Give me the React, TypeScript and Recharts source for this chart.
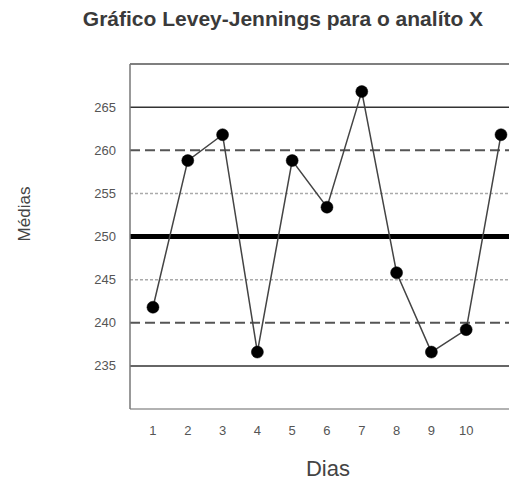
import {
  Line,
  LineChart,
  ReferenceLine,
  XAxis,
  YAxis,
} from "recharts";

const days = [1, 2, 3, 4, 5, 6, 7, 8, 9, 10, 11];
const means = [241.8, 258.8, 261.8, 236.6, 258.8, 253.4, 266.8, 245.8, 236.6, 239.2, 261.8];
const xTicks = [1, 2, 3, 4, 5, 6, 7, 8, 9, 10];
const yTicks = [235, 240, 245, 250, 255, 260, 265];

const target = 250;
const sd = 5;

const data = days.map((day, i) => ({ day, mean: means[i] }));

const font = "'Liberation Sans', Arial, sans-serif";

// Levey-Jennings control chart: mean, ±1/2/3 SD bands, daily means.
export default function App() {
  return (
    <div style={{ position: "absolute", left: 0, top: 0, width: 509, height: 480, background: "#fff" }}>
      <div
        style={{
          position: "absolute",
          left: 0,
          width: 566,
          top: 7,
          textAlign: "center",
          fontFamily: font,
          fontWeight: "bold",
          fontSize: 21,
          color: "#3a3a3a",
        }}
      >
        Gráfico Levey-Jennings para o analíto X
      </div>
      <LineChart
        width={509}
        height={480}
        data={data}
        margin={{ top: 64, right: 0, left: 0, bottom: 0 }}
      >
        <XAxis
          dataKey="day"
          type="number"
          domain={[0.34, 11.23]}
          ticks={xTicks}
          allowDataOverflow
          tickLine={false}
          tickSize={0}
          tickMargin={17}
          axisLine={{ stroke: "#999", strokeWidth: 1.5 }}
          tick={{ fill: "#555", fontSize: 13, fontFamily: font }}
          height={71}
          label={{
            content: () => (
              <text x={328} y={476} textAnchor="middle" fill="#444" fontSize={22} fontFamily={font}>
                Dias
              </text>
            ),
          }}
        />
        <YAxis
          type="number"
          domain={[230, 270]}
          ticks={yTicks}
          allowDataOverflow
          width={130}
          tickLine={false}
          tickSize={0}
          tickMargin={14}
          axisLine={{ stroke: "#777", strokeWidth: 1.5 }}
          tick={{ fill: "#555", fontSize: 13, fontFamily: font }}
          label={{
            content: () => (
              <text
                x={30}
                y={214}
                transform="rotate(-90 30 214)"
                textAnchor="middle"
                fill="#444"
                fontSize={17}
                fontFamily={font}
              >
                Médias
              </text>
            ),
          }}
        />
        <ReferenceLine y={target + 4 * sd} stroke="#555" strokeWidth={1.5} />
        <ReferenceLine y={target + 3 * sd} stroke="#333" strokeWidth={1.5} />
        <ReferenceLine y={target - 3 * sd} stroke="#333" strokeWidth={1.5} />
        <ReferenceLine y={target + 2 * sd} stroke="#555" strokeWidth={2} strokeDasharray="10 5" />
        <ReferenceLine y={target - 2 * sd} stroke="#555" strokeWidth={2} strokeDasharray="10 5" />
        <ReferenceLine y={target + sd} stroke="#aaa" strokeWidth={1.5} strokeDasharray="3 2" />
        <ReferenceLine y={target - sd} stroke="#aaa" strokeWidth={1.5} strokeDasharray="3 2" />
        <ReferenceLine y={target} stroke="#000" strokeWidth={5} />
        <Line
          dataKey="mean"
          type="linear"
          stroke="#444"
          strokeWidth={1.5}
          dot={{ r: 6, fill: "#000", stroke: "#000", strokeWidth: 0.5 }}
          isAnimationActive={false}
        />
      </LineChart>
    </div>
  );
}
